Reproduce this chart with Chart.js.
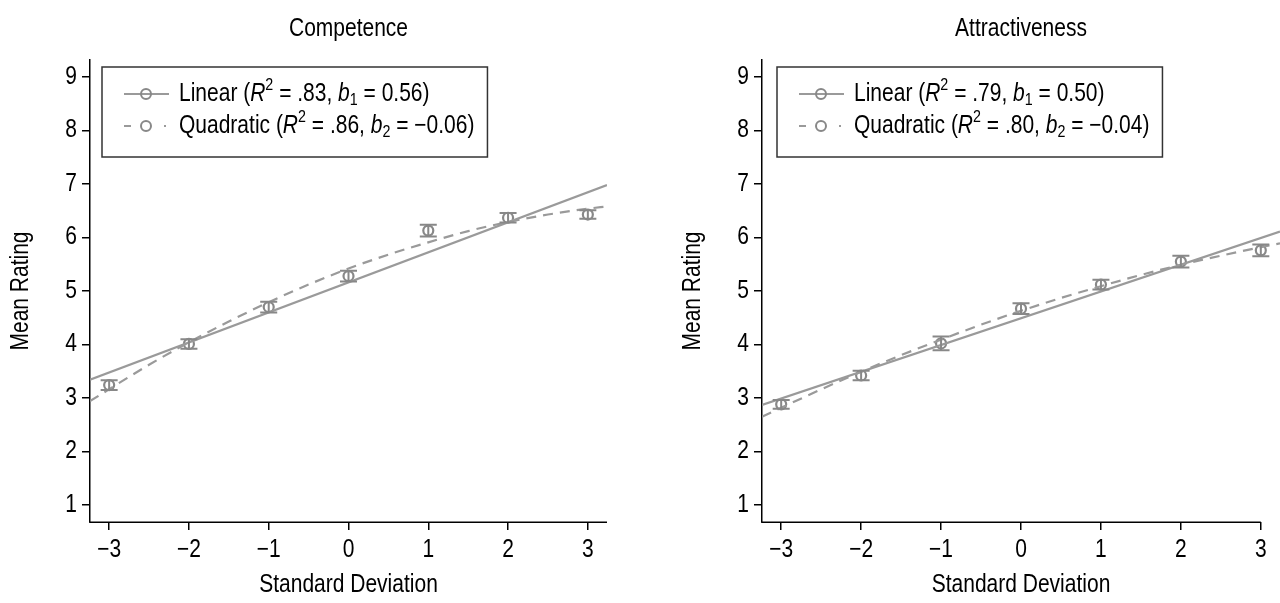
<!DOCTYPE html>
<html><head><meta charset="utf-8">
<script src="https://cdn.jsdelivr.net/npm/chart.js@4.4.0/dist/chart.umd.min.js"></script>
<style>
html,body{margin:0;padding:0;background:#fff;width:1280px;height:603px;overflow:hidden}
.wrap{position:absolute;top:0;width:640px;height:603px}
canvas{display:block}
</style></head><body>
<div class="wrap" style="left:0"><canvas id="c1" width="640" height="603"></canvas></div>
<div class="wrap" style="left:640px"><canvas id="c2" width="640" height="603"></canvas></div>
<script>
// ---------------- data ----------------
const sdLevels = [-3, -2, -1, 0, 1, 2, 3];
const xTickValues = [-3, -2, -1, 0, 1, 2, 3];
const xTickLabels = ['\u22123', '\u22122', '\u22121', '0', '1', '2', '3'];
const yTickValues = [1, 2, 3, 4, 5, 6, 7, 8, 9];
const yTickLabels = ['1', '2', '3', '4', '5', '6', '7', '8', '9'];

const panelTitles = ['Competence', 'Attractiveness'];
const xAxisTitle = 'Standard Deviation';
const yAxisTitle = 'Mean Rating';

const competenceMeans = [3.24, 4.01, 4.70, 5.28, 6.13, 6.37, 6.43];
const competenceSE    = [0.09, 0.09, 0.10, 0.10, 0.11, 0.09, 0.08];
const attractMeans    = [2.88, 3.42, 4.02, 4.67, 5.12, 5.55, 5.76];
const attractSE       = [0.08, 0.09, 0.13, 0.10, 0.09, 0.11, 0.11];

// fitted lines
const linearX = [-3.24, 3.24];
const competenceLinearY = [3.34, 6.98];
const attractLinearY    = [2.87, 6.11];
const quadX = [-3.24, -2.5, -2, -1.5, -1, -0.5, 0, 0.5, 1, 1.5, 2, 2.5, 3, 3.24];
const competenceQuadY = [2.94, 3.62, 4.04, 4.43, 4.79, 5.12, 5.42, 5.68, 5.91, 6.12, 6.29, 6.43, 6.54, 6.58];
const attractQuadY    = [2.65, 3.16, 3.49, 3.80, 4.09, 4.37, 4.63, 4.87, 5.09, 5.30, 5.49, 5.66, 5.82, 5.89];

// legend statistics
const competenceLegend = [['Linear', '.83', '1', '0.56'], ['Quadratic', '.86', '2', '\u22120.06']];
const attractLegend    = [['Linear', '.79', '1', '0.50'], ['Quadratic', '.80', '2', '\u22120.04']];

// ---------------- styling ----------------
const FONT = "'Liberation Sans', Arial, sans-serif";
const FS = 25;          // font size
const SX = 0.84;        // horizontal condensing of the type
const LINE_GRAY = '#9a9a9a';
const POINT_GRAY = '#888888';
Chart.defaults.font.family = FONT;
Chart.defaults.font.size = FS;
Chart.defaults.color = '#000';

// condensed text rendering (text stays real canvas text)
function condense(canvas) {
  const ctx = canvas.getContext('2d');
  const fill = ctx.fillText.bind(ctx);
  const measure = ctx.measureText.bind(ctx);
  ctx.fillText = function (t, x, y, mw) {
    this.save();
    this.translate(x, y);
    this.scale(SX, 1);
    if (mw !== undefined && mw !== null) fill(t, 0, 0, mw / SX); else fill(t, 0, 0);
    this.restore();
  };
  ctx.measureText = function (t) {
    const m = measure(t);
    return {
      width: m.width * SX,
      actualBoundingBoxLeft: m.actualBoundingBoxLeft * SX,
      actualBoundingBoxRight: m.actualBoundingBoxRight * SX,
      actualBoundingBoxAscent: m.actualBoundingBoxAscent,
      actualBoundingBoxDescent: m.actualBoundingBoxDescent,
      fontBoundingBoxAscent: m.fontBoundingBoxAscent,
      fontBoundingBoxDescent: m.fontBoundingBoxDescent
    };
  };
}

const errorBarPlugin = {
  id: 'errorBars',
  afterDatasetsDraw(chart, args, opts) {
    const ds = chart.data.datasets[opts.datasetIndex];
    const xs = chart.scales.x, ys = chart.scales.y, ctx = chart.ctx;
    ctx.save();
    ctx.strokeStyle = POINT_GRAY;
    ctx.lineWidth = 2;
    ds.data.forEach((p, i) => {
      const se = opts.se[i];
      const px = xs.getPixelForValue(p.x);
      const top = ys.getPixelForValue(p.y + se), bot = ys.getPixelForValue(p.y - se);
      ctx.beginPath();
      ctx.moveTo(px, top); ctx.lineTo(px, bot);
      ctx.moveTo(px - 8.5, top); ctx.lineTo(px + 8.5, top);
      ctx.moveTo(px - 8.5, bot); ctx.lineTo(px + 8.5, bot);
      ctx.stroke();
    });
    ctx.restore();
  }
};

const axisLinePlugin = {
  id: 'axisLine',
  afterDraw(chart, args, opts) {
    const xs = chart.scales.x, ca = chart.chartArea, ctx = chart.ctx;
    ctx.save();
    ctx.strokeStyle = '#000';
    ctx.lineWidth = 1.5;
    ctx.beginPath();
    ctx.moveTo(ca.left - 0.75, ca.bottom + 0.25);
    ctx.lineTo(xs.getPixelForValue(opts.end), ca.bottom + 0.25);
    ctx.stroke();
    ctx.restore();
  }
};

const legendPlugin = {
  id: 'mathLegend',
  afterDraw(chart, args, opts) {
    const ctx = chart.ctx, ca = chart.chartArea;
    const normal = FS + 'px ' + FONT, italic = 'italic ' + FS + 'px ' + FONT, small = '17px ' + FONT;
    const rows = opts.rows.map(r => [
      [r[0] + ' (', normal, 0], ['R', italic, 0], ['2', small, -9], [' = ' + r[1] + ', ', normal, 0],
      ['b', italic, 0], [r[2], small, 6], [' = ' + r[3] + ')', normal, 0]
    ]);
    const bx = ca.left + opts.offset, by = ca.top + 7;
    const textX = bx + 77;
    let maxW = 0;
    rows.forEach(parts => {
      let w = 0;
      parts.forEach(p => { ctx.font = p[1]; w += ctx.measureText(p[0]).width; });
      maxW = Math.max(maxW, w);
    });
    const bw = 77 + maxW + 13, bh = 90;
    ctx.save();
    ctx.fillStyle = '#fff';
    ctx.fillRect(bx, by, bw, bh);
    ctx.strokeStyle = '#333';
    ctx.lineWidth = 1.5;
    ctx.strokeRect(bx, by, bw, bh);
    rows.forEach((parts, ri) => {
      const cy = by + 27 + ri * 32;
      ctx.strokeStyle = LINE_GRAY;
      ctx.lineWidth = 2;
      ctx.beginPath();
      ctx.setLineDash(ri === 0 ? [] : [7, 33, 2, 100]);
      ctx.moveTo(bx + 22, cy); ctx.lineTo(bx + 67, cy);
      ctx.stroke();
      ctx.setLineDash([]);
      ctx.strokeStyle = POINT_GRAY;
      ctx.beginPath();
      ctx.arc(bx + 44, cy, 5, 0, Math.PI * 2);
      ctx.stroke();
      ctx.fillStyle = '#000';
      ctx.textBaseline = 'middle';
      ctx.textAlign = 'left';
      let x = textX;
      parts.forEach(p => {
        ctx.font = p[1];
        ctx.fillText(p[0], x, cy + p[2]);
        x += ctx.measureText(p[0]).width;
      });
    });
    ctx.restore();
  }
};

function makeChart(canvasId, title, means, se, linY, quadY, legendRows, padding, xAxisEnd, legendOffset) {
  const canvas = document.getElementById(canvasId);
  condense(canvas);
  const pts = sdLevels.map((x, i) => ({ x: x, y: means[i] }));
  const lin = linearX.map((x, i) => ({ x: x, y: linY[i] }));
  const quad = quadX.map((x, i) => ({ x: x, y: quadY[i] }));
  return new Chart(canvas, {
    type: 'scatter',
    data: {
      datasets: [
        { type: 'line', label: 'Linear', data: lin, borderColor: LINE_GRAY, borderWidth: 2.2, pointRadius: 0, fill: false },
        { type: 'line', label: 'Quadratic', data: quad, borderColor: LINE_GRAY, borderWidth: 2.2, borderDash: [10, 7], pointRadius: 0, fill: false, cubicInterpolationMode: 'monotone' },
        { label: 'Means', data: pts, showLine: false, pointRadius: 5, pointBorderWidth: 2.2, pointBorderColor: POINT_GRAY, pointBackgroundColor: 'rgba(0,0,0,0)' }
      ]
    },
    options: {
      responsive: false, animation: false, devicePixelRatio: 1,
      layout: { padding: padding, autoPadding: false },
      plugins: {
        legend: { display: false }, tooltip: { enabled: false },
        title: { display: true, text: title, fullSize: false, color: '#000', font: { size: FS, weight: 'normal' }, padding: { top: 14, bottom: 16 } },
        errorBars: { datasetIndex: 2, se: se },
        axisLine: { end: xAxisEnd },
        mathLegend: { rows: legendRows, offset: legendOffset }
      },
      scales: {
        x: {
          type: 'linear', min: -3.24, max: 3.24,
          afterBuildTicks: s => { s.ticks = xTickValues.map(v => ({ value: v })); },
          afterFit: s => { s.height = 81; s.paddingLeft = 0; s.paddingRight = 0; },
          ticks: { callback: v => xTickLabels[xTickValues.indexOf(v)], color: '#000', font: { size: FS }, padding: 5, maxRotation: 0, autoSkip: false },
          grid: { display: true, drawOnChartArea: false, drawTicks: true, tickLength: 8, color: '#000', lineWidth: 1.5 },
          border: { display: false },
          title: { display: true, text: xAxisTitle, color: '#000', font: { size: FS }, padding: { top: 4, bottom: 3 } }
        },
        y: {
          type: 'linear', min: 0.68, max: 9.32,
          afterBuildTicks: s => { s.ticks = yTickValues.map(v => ({ value: v })); },
          afterFit: s => { s.width = 90; s.paddingTop = 0; s.paddingBottom = 0; },
          ticks: { callback: v => yTickLabels[yTickValues.indexOf(v)], color: '#000', font: { size: FS }, padding: 5, autoSkip: false },
          grid: { display: true, drawOnChartArea: false, drawTicks: true, tickLength: 8, color: '#000', lineWidth: 1.5 },
          border: { display: true, color: '#000', width: 1.5 },
          title: { display: true, text: yAxisTitle, color: '#000', font: { size: FS }, padding: { top: 6, bottom: 0 } }
        }
      }
    },
    plugins: [errorBarPlugin, axisLinePlugin, legendPlugin]
  });
}

makeChart('c1', panelTitles[0], competenceMeans, competenceSE, competenceLinearY, competenceQuadY, competenceLegend, { left: 0, right: 33, top: 0, bottom: 0 }, 3.24, 12);
makeChart('c2', panelTitles[1], attractMeans, attractSE, attractLinearY, attractQuadY, attractLegend, { left: 32, right: 0, top: 0, bottom: 0 }, 3, 15);
</script>
</body></html>
